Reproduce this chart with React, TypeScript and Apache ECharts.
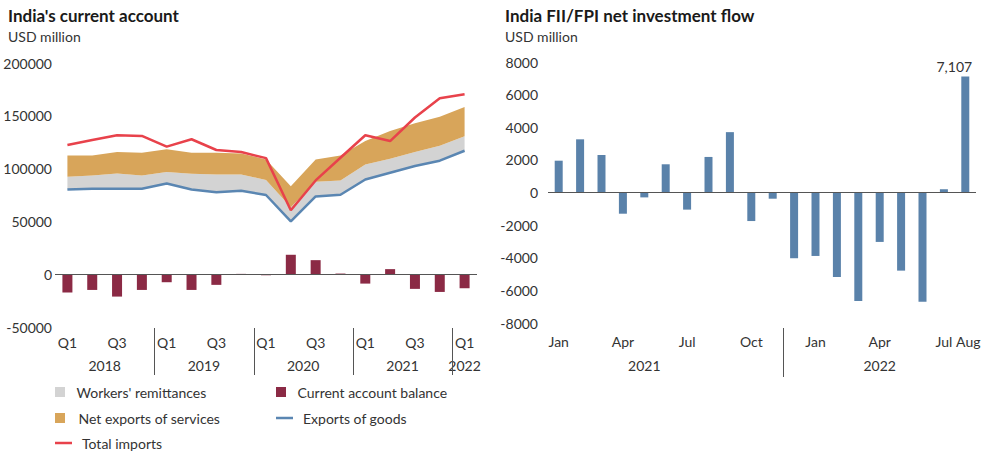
import React, { useEffect, useRef } from "react";
import * as echarts from "echarts";

// ---------- Left chart: India's current account (USD million) ----------
const quarters = [
  "2018 Q1", "2018 Q2", "2018 Q3", "2018 Q4",
  "2019 Q1", "2019 Q2", "2019 Q3", "2019 Q4",
  "2020 Q1", "2020 Q2", "2020 Q3", "2020 Q4",
  "2021 Q1", "2021 Q2", "2021 Q3", "2021 Q4",
  "2022 Q1",
];
const shownQuarterLabels = ["Q1", "Q3"];
const quarterYears = ["2018", "2019", "2020", "2021", "2022"];

const exportsOfGoods = [80200, 80900, 80900, 80900, 85900, 80200, 77700, 79000, 75000, 50100, 73600, 75200, 89700, 96100, 102400, 107500, 116900];
const workersRemittances = [12100, 12600, 14500, 12600, 10800, 14900, 16800, 15500, 14100, 13400, 14000, 13600, 14300, 13300, 13300, 14200, 13800];
const netExportsOfServices = [20200, 19000, 20300, 21600, 21600, 20000, 20600, 19900, 19600, 19900, 21100, 23700, 22100, 26300, 27300, 27500, 27600];
const totalImports = [122300, 127100, 131600, 130900, 120800, 127800, 117600, 115700, 109900, 60500, 88800, 110300, 131600, 126100, 148400, 166700, 170500];
const currentAccountBalance = [-17400, -14900, -21200, -14900, -7600, -14900, -10100, 300, -1000, 18400, 13300, 600, -8900, 4800, -13900, -16800, -13300];

// ---------- Right chart: India FII/FPI net investment flow (USD million) ----------
const months = [
  "Jan 2021", "Feb 2021", "Mar 2021", "Apr 2021", "May 2021", "Jun 2021",
  "Jul 2021", "Aug 2021", "Sep 2021", "Oct 2021", "Nov 2021", "Dec 2021",
  "Jan 2022", "Feb 2022", "Mar 2022", "Apr 2022", "May 2022", "Jun 2022",
  "Jul 2022", "Aug 2022",
];
const shownMonths = ["Jan 2021", "Apr 2021", "Jul 2021", "Oct 2021", "Jan 2022", "Apr 2022", "Jul 2022", "Aug 2022"];
const fpiFlow = [1950, 3260, 2300, -1300, -300, 1730, -1050, 2180, 3700, -1750, -380, -4030, -3890, -5180, -6650, -3030, -4790, -6690, 200, 7107];
const monthYearLabels = ["2021", "2022"];
const monthYearAnchors = ["May 2021", "Apr 2022"];
const monthSeparatorAfter = "Nov 2021";
const labelledPoint = "Aug 2022";

const FONT = "Lato, 'Noto Sans', sans-serif";
const TEXT = "#333333";
const C_GRAY = "#d3d3d3";
const C_ORANGE = "#d8a55a";
const C_MAROON = "#8b2a45";
const C_BLUE = "#5a86b2";
const C_RED = "#e8424b";
const C_BAR = "#5a82aa";

export default function App() {
  const ref = useRef<HTMLDivElement>(null);

  useEffect(() => {
    if (!ref.current) return;
    const chart = echarts.init(ref.current, null, { renderer: "svg" });

    const legendSquare = "path://M0,0H10V10H0Z";
    const legendLine = "path://M0,0H17V2.5H0Z";

    const legendItem = (name: string, icon: string, left: number, centerY: number, gap: number) => ({
      orient: "horizontal", left, top: centerY - 8, padding: 0,
      itemWidth: 17, itemHeight: 10,
      itemStyle: { borderWidth: 0 },
      textStyle: { fontFamily: FONT, fontSize: 14, lineHeight: 16, color: TEXT, padding: [0, 0, 0, gap] },
      data: [{ name, icon }],
      selectedMode: false,
    });

    const option: any = {
      animation: false,
      textStyle: { fontFamily: FONT },
      title: [
        { text: "India's current account", left: 8, top: 7, padding: 0, textStyle: { fontFamily: FONT, fontSize: 17, fontWeight: "bold", color: "#1a1a1a" } },
        { text: "USD million", left: 8, top: 29, padding: 0, textStyle: { fontFamily: FONT, fontSize: 14, fontWeight: "normal", color: TEXT } },
        { text: "India FII/FPI net investment flow", left: 505, top: 7, padding: 0, textStyle: { fontFamily: FONT, fontSize: 17, fontWeight: "bold", color: "#1a1a1a" } },
        { text: "USD million", left: 505, top: 29, padding: 0, textStyle: { fontFamily: FONT, fontSize: 14, fontWeight: "normal", color: TEXT } },
      ],
      legend: [
        legendItem("Workers' remittances", legendSquare, 55, 392, 3),
        legendItem("Net exports of services", legendSquare, 55, 418, 5),
        legendItem("Total imports", legendLine, 55, 443, 5),
        legendItem("Current account balance", legendSquare, 276, 392, 3),
        legendItem("Exports of goods", legendLine, 276, 418, 5),
      ],
      grid: [
        { left: 55, top: 63, width: 422, height: 264 },
        { left: 548, top: 62, width: 428, height: 261 },
      ],
      xAxis: [
        {
          gridIndex: 0, type: "category", data: quarters, boundaryGap: true,
          axisLine: { show: false, onZero: false }, axisTick: { show: false },
          axisLabel: {
            interval: 0, margin: 8, fontFamily: FONT, fontSize: 14, color: TEXT,
            formatter: (v: string) => { const q = v.split(" ")[1]; return shownQuarterLabels.includes(q) ? q : ""; },
          },
        },
        {
          gridIndex: 1, type: "category",
          data: months.map((m, i) => (i === months.length - 1 ? { value: m, textStyle: { padding: [0, 0, 0, 6] } } : m)),
          boundaryGap: true,
          axisLine: { show: false, onZero: false }, axisTick: { show: false },
          axisLabel: {
            interval: 0, margin: 11, fontFamily: FONT, fontSize: 14, color: TEXT,
            formatter: (v: string) => (shownMonths.includes(v) ? v.split(" ")[0] : ""),
          },
        },
      ],
      yAxis: [
        {
          gridIndex: 0, type: "value", min: -50000, max: 200000, interval: 50000,
          axisLine: { show: false }, axisTick: { show: false }, splitLine: { show: false },
          axisLabel: { margin: 3, fontFamily: FONT, fontSize: 14, color: TEXT, formatter: (v: number) => String(v) },
        },
        {
          gridIndex: 1, type: "value", min: -8000, max: 8000, interval: 2000,
          axisLine: { show: false }, axisTick: { show: false }, splitLine: { show: false },
          axisLabel: { margin: 10, fontFamily: FONT, fontSize: 14, color: TEXT, formatter: (v: number) => String(v) },
        },
      ],
      series: [
        {
          name: "Exports of goods", type: "line", xAxisIndex: 0, yAxisIndex: 0, stack: "ca",
          data: exportsOfGoods, symbol: "none", color: C_BLUE, z: 4,
          lineStyle: { color: C_BLUE, width: 2.5 },
        },
        {
          name: "Workers' remittances", type: "line", xAxisIndex: 0, yAxisIndex: 0, stack: "ca",
          data: workersRemittances, symbol: "none", color: C_GRAY, z: 2,
          lineStyle: { width: 0 }, areaStyle: { color: C_GRAY, opacity: 1 },
        },
        {
          name: "Net exports of services", type: "line", xAxisIndex: 0, yAxisIndex: 0, stack: "ca",
          data: netExportsOfServices, symbol: "none", color: C_ORANGE, z: 2,
          lineStyle: { width: 0 }, areaStyle: { color: C_ORANGE, opacity: 1 },
        },
        {
          name: "Total imports", type: "line", xAxisIndex: 0, yAxisIndex: 0,
          data: totalImports, symbol: "none", color: C_RED, z: 5,
          lineStyle: { color: C_RED, width: 2.5 },
        },
        {
          name: "Current account balance", type: "bar", xAxisIndex: 0, yAxisIndex: 0,
          data: currentAccountBalance, barWidth: 10, color: C_MAROON, z: 3,
          itemStyle: { color: C_MAROON },
          markLine: {
            silent: true, symbol: "none", label: { show: false },
            lineStyle: { color: "#555555", type: "solid", width: 1 },
            data: [{ yAxis: 0 }],
          },
        },
        {
          name: "FII/FPI net flow", type: "bar", xAxisIndex: 1, yAxisIndex: 1,
          data: fpiFlow.map((v, i) =>
            months[i] === labelledPoint
              ? { value: v, label: { show: true, position: "top", distance: 3, offset: [-11, 0], fontFamily: FONT, fontSize: 14, color: TEXT, formatter: (p: any) => Number(p.value).toLocaleString("en-US") } }
              : v
          ),
          barWidth: 8, itemStyle: { color: C_BAR },
          markLine: {
            silent: true, symbol: "none", label: { show: false },
            lineStyle: { color: "#555555", type: "solid", width: 1 },
            data: [{ yAxis: 0 }],
          },
        },
      ],
    };

    chart.setOption(option);

    // Axis decorations (year labels and separators) placed through the axis scales
    const pxL = (c: string) => chart.convertToPixel({ xAxisIndex: 0 }, c) as number;
    const pxR = (c: string) => chart.convertToPixel({ xAxisIndex: 1 }, c) as number;
    const bottomL = chart.convertToPixel({ yAxisIndex: 0 }, -50000) as number;
    const bottomR = chart.convertToPixel({ yAxisIndex: 1 }, -8000) as number;
    const yearY = 365;
    const sepEnd = 375;
    const graphics: any[] = [];
    const textStyle = (text: string) => ({ text, align: "center", verticalAlign: "middle", fontFamily: FONT, fontSize: 14, fill: TEXT });

    quarterYears.forEach((yr, k) => {
      const idx = quarters.map((q, i) => (q.startsWith(yr) ? i : -1)).filter((i) => i >= 0);
      const first = idx[0];
      const last = idx[idx.length - 1];
      const cx = (pxL(quarters[first]) + pxL(quarters[last])) / 2;
      graphics.push({ type: "text", x: cx, y: yearY, style: textStyle(yr), silent: true });
      if (k > 0) {
        const sx = Math.round((pxL(quarters[first - 1]) + pxL(quarters[first])) / 2) + 0.5;
        graphics.push({ type: "line", shape: { x1: sx, y1: bottomL + 1, x2: sx, y2: sepEnd }, style: { stroke: "#555555", lineWidth: 1 }, silent: true });
      }
    });

    monthYearLabels.forEach((yr, k) => {
      graphics.push({ type: "text", x: pxR(monthYearAnchors[k]), y: yearY, style: textStyle(yr), silent: true });
    });
    const si = months.indexOf(monthSeparatorAfter);
    const sxR = Math.round((pxR(months[si]) + pxR(months[si + 1])) / 2) + 0.5;
    graphics.push({ type: "line", shape: { x1: sxR, y1: bottomR + 5, x2: sxR, y2: sepEnd + 2 }, style: { stroke: "#555555", lineWidth: 1 }, silent: true });

    chart.setOption({ graphic: graphics });

    return () => chart.dispose();
  }, []);

  return <div ref={ref} style={{ position: "absolute", left: 0, top: 0, width: 984, height: 454 }} />;
}
